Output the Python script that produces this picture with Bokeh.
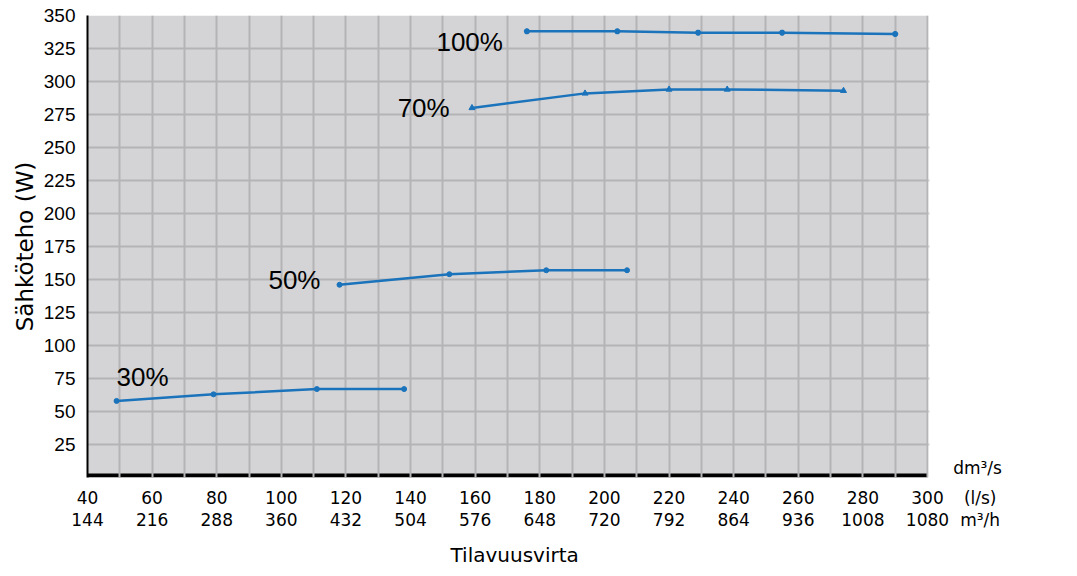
from bokeh.plotting import figure
from bokeh.models import FixedTicker, Label, Range1d, BoxAnnotation, Title
from bokeh.embed import file_html
from bokeh.resources import INLINE

# Data (flow in l/s, power in W)
x_100 = [176, 204, 229, 255, 290]
y_100 = [338, 338, 337, 337, 336]
x_70 = [159, 194, 220, 238, 274]
y_70 = [280, 291, 294, 294, 293]
x_50 = [118, 152, 182, 207]
y_50 = [146, 154, 157, 157]
x_30 = [49, 79, 111, 138]
y_30 = [58, 63, 67, 67]

x_ticks_ls = [40, 60, 80, 100, 120, 140, 160, 180, 200, 220, 240, 260, 280, 300]
x_ticks_m3h = ["144", "216", "288", "360", "432", "504", "576", "648", "720",
               "792", "864", "936", "1008", "1080"]
y_ticks = [25, 50, 75, 100, 125, 150, 175, 200, 225, 250, 275, 300, 325, 350]

series_labels = ["100%", "70%", "50%", "30%"]

BLUE = "#1a73bb"
GRID = "#b4b4b6"
BG = "#d4d4d6"
SANS = "Liberation Sans"
GOTH = "DejaVu Sans"

# chart area 40..300 spans 840 px; frame runs on to the right canvas edge
X_MIN, X_MAX = 40, 300
X_FRAME_END = X_MIN + 990 * (X_MAX - X_MIN) / 840
Y_MIN, Y_MAX = 0, 350

p = figure(width=1077, height=576, output_backend="svg", toolbar_location=None,
           x_range=Range1d(X_MIN, X_FRAME_END), y_range=Range1d(Y_MIN, Y_MAX),
           min_border_left=87, min_border_right=0, min_border_top=15,
           min_border_bottom=99)

p.background_fill_color = "white"
p.border_fill_color = "white"
p.outline_line_color = None

# grey chart area and thick black base bar (under the grid)
p.add_layout(BoxAnnotation(left=X_MIN, right=X_MAX, bottom=Y_MIN, top=Y_MAX,
                           fill_color=BG, fill_alpha=1, line_color=None,
                           level="image"))
p.add_layout(BoxAnnotation(left=X_MIN, right=X_MAX, bottom=Y_MIN, top=3,
                           fill_color="black", fill_alpha=1, line_color=None,
                           level="image"))

p.xgrid.ticker = FixedTicker(ticks=list(range(X_MIN, X_MAX + 1, 10)))
p.ygrid.ticker = FixedTicker(ticks=list(range(25, Y_MAX + 1, 25)))
p.grid.grid_line_color = GRID
p.grid.grid_line_width = 2
p.grid.grid_line_alpha = 1.0

# white area to the right of the chart area (room for unit texts)
p.add_layout(BoxAnnotation(left=X_MAX + 0.6, fill_color="white", fill_alpha=1,
                           line_color="white", line_width=3))

# X axis
xa = p.xaxis[0]
unit_tick = 316.3
xa.ticker = FixedTicker(ticks=x_ticks_ls + [unit_tick])
overrides = {t: f"{t}\n{m}" for t, m in zip(x_ticks_ls, x_ticks_m3h)}
overrides[unit_tick] = "(l/s)\nm³/h"
xa.major_label_overrides = overrides
xa.major_label_text_font = GOTH
xa.major_label_text_font_size = "17px"
xa.major_label_text_color = "black"
xa.major_label_text_line_height = 1.1
xa.major_label_standoff = 4
xa.major_tick_line_color = None
xa.minor_tick_line_color = None
xa.axis_line_color = None

# x axis title, placed under the grey chart area
p.add_layout(Title(text="Tilavuusvirta", align="left", offset=363,
                   text_font=GOTH, text_font_size="20px", text_font_style="normal",
                   text_color="black", standoff=16), "below")

# Y axis
ya = p.yaxis[0]
ya.ticker = FixedTicker(ticks=y_ticks)
ya.major_label_text_font = SANS
ya.major_label_text_font_size = "19px"
ya.major_label_text_color = "black"
ya.major_label_standoff = 6
ya.major_tick_line_color = None
ya.minor_tick_line_color = None
ya.axis_line_color = "black"
ya.axis_line_width = 2
ya.axis_label = "Sähköteho (W)"
ya.axis_label_text_font = GOTH
ya.axis_label_text_font_size = "23px"
ya.axis_label_text_font_style = "normal"
ya.axis_label_text_color = "black"
ya.axis_label_standoff = 3

# Curves
p.line(x_100, y_100, line_color=BLUE, line_width=2.5)
p.scatter(x_100, y_100, marker="asterisk", size=6, line_color=BLUE, line_width=2)
p.line(x_70, y_70, line_color=BLUE, line_width=2.5)
p.scatter(x_70, y_70, marker="triangle", size=6, color=BLUE)
p.line(x_50, y_50, line_color=BLUE, line_width=2.5)
p.scatter(x_50, y_50, marker="circle", size=5, color=BLUE)
p.line(x_30, y_30, line_color=BLUE, line_width=2.5)
p.scatter(x_30, y_30, marker="circle", size=5, color=BLUE)

# Series labels
label_pos = [(148, 330), (136, 280), (96, 150), (49, 76)]
for txt, (lx, ly) in zip(series_labels, label_pos):
    p.add_layout(Label(x=lx, y=ly, text=txt, text_font=SANS, text_font_size="26px",
                       text_color="black", text_align="left", text_baseline="middle"))

# flow unit above the unit tick label
p.add_layout(Label(x=315.5, y=7, text="dm³/s", text_font=GOTH, text_font_size="17px",
                   text_color="black", text_align="center", text_baseline="middle"))

open("out.html", "w").write(file_html(p, INLINE))
